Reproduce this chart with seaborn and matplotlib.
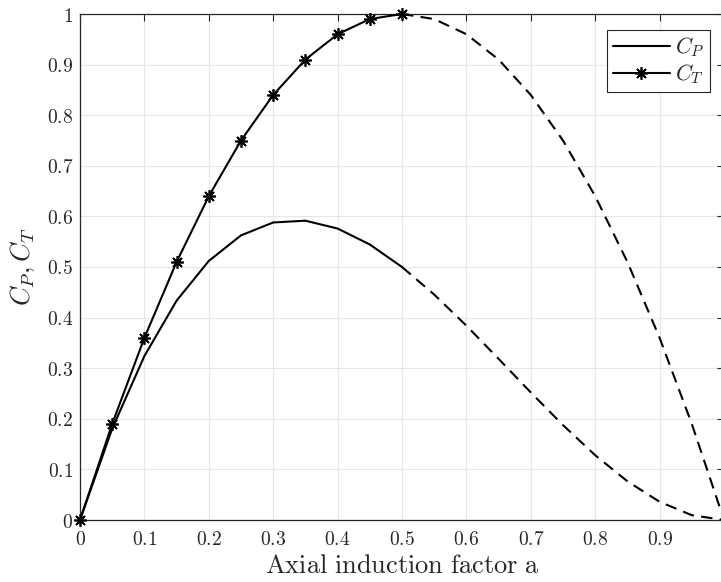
import matplotlib
matplotlib.use("Agg")
import matplotlib.pyplot as plt
import seaborn as sns
import pandas as pd
from matplotlib.ticker import FuncFormatter
from matplotlib.lines import Line2D

# Data
a_vals = [0.0, 0.05, 0.10, 0.15, 0.20, 0.25, 0.30, 0.35, 0.40, 0.45, 0.50,
          0.55, 0.60, 0.65, 0.70, 0.75, 0.80, 0.85, 0.90, 0.95, 1.00]
cp_vals = [0.0, 0.1805, 0.324, 0.4335, 0.512, 0.5625, 0.588, 0.5915, 0.576, 0.5445, 0.5,
           0.4455, 0.384, 0.3185, 0.252, 0.1875, 0.128, 0.0765, 0.036, 0.0095, 0.0]
ct_vals = [0.0, 0.19, 0.36, 0.51, 0.64, 0.75, 0.84, 0.91, 0.96, 0.99, 1.0,
           0.99, 0.96, 0.91, 0.84, 0.75, 0.64, 0.51, 0.36, 0.19, 0.0]
a_split = 0.5
x_ticks = [0, 0.1, 0.2, 0.3, 0.4, 0.5, 0.6, 0.7, 0.8, 0.9, 1]
y_ticks = [0, 0.1, 0.2, 0.3, 0.4, 0.5, 0.6, 0.7, 0.8, 0.9, 1]

df = pd.DataFrame({"a": a_vals, "CP": cp_vals, "CT": ct_vals})
solid = df[df["a"] <= a_split]
dashed = df[df["a"] >= a_split]

sns.set_style("white")
plt.rcParams["mathtext.fontset"] = "cm"

fig = plt.figure(figsize=(7.21, 5.82), dpi=100)
ax = fig.add_axes([80/721, 1 - 520/582, 644/721, 506/582])

ast = (8, 2, 0)
dash = (0, (5.5, 3.5))
sns.lineplot(data=solid, x="a", y="CP", ax=ax, color="black", lw=1.5, estimator=None, sort=False)
sns.lineplot(data=solid, x="a", y="CT", ax=ax, color="black", lw=1.5, estimator=None, sort=False,
             marker=ast, markersize=9, markeredgewidth=1.25, markeredgecolor="black", clip_on=False,
             zorder=5)
sns.lineplot(data=dashed, x="a", y="CP", ax=ax, color="black", lw=1.5, estimator=None, sort=False,
             linestyle=dash)
sns.lineplot(data=dashed, x="a", y="CT", ax=ax, color="black", lw=1.5, estimator=None, sort=False,
             linestyle=dash)

ax.set_xlim(0, 1)
ax.set_ylim(0, 1)
ax.set_xticks(x_ticks)
ax.set_yticks(y_ticks)
fmt = FuncFormatter(lambda v, p: "$%s$" % ("%g" % v))
ax.xaxis.set_major_formatter(fmt)
ax.yaxis.set_major_formatter(fmt)
ax.tick_params(direction="in", length=5, width=0.8, labelsize=14, colors="#262626",
               top=True, right=True)
ax.tick_params(axis="x", pad=7)
ax.tick_params(axis="y", pad=5)
ax.grid(True, color="#e6e6e6", lw=0.8)
ax.set_axisbelow(True)
for s in ax.spines.values():
    s.set_color("#262626")
    s.set_linewidth(0.9)

ax.set_xlabel(r"$\mathrm{Axial\ induction\ factor\ a}$", fontsize=19, labelpad=3)
ax.set_ylabel(r"$C_P, C_T$", fontsize=19, labelpad=7)

handles = [Line2D([], [], color="black", lw=1.5),
           Line2D([], [], color="black", lw=1.5, marker=ast, markersize=9, markeredgewidth=1.25)]
leg = ax.legend(handles, [r"$C_P$", r"$C_T$"], loc="upper right",
                bbox_to_anchor=((710 - 80) / 644, 1 - 16/506), fontsize=16,
                frameon=True, fancybox=False, edgecolor="#262626", framealpha=1,
                handlelength=2.6, borderpad=0.25, labelspacing=0.15, handletextpad=0.2,
                borderaxespad=0.0)
leg.get_frame().set_linewidth(0.8)

fig.savefig("out.png", dpi=100)
